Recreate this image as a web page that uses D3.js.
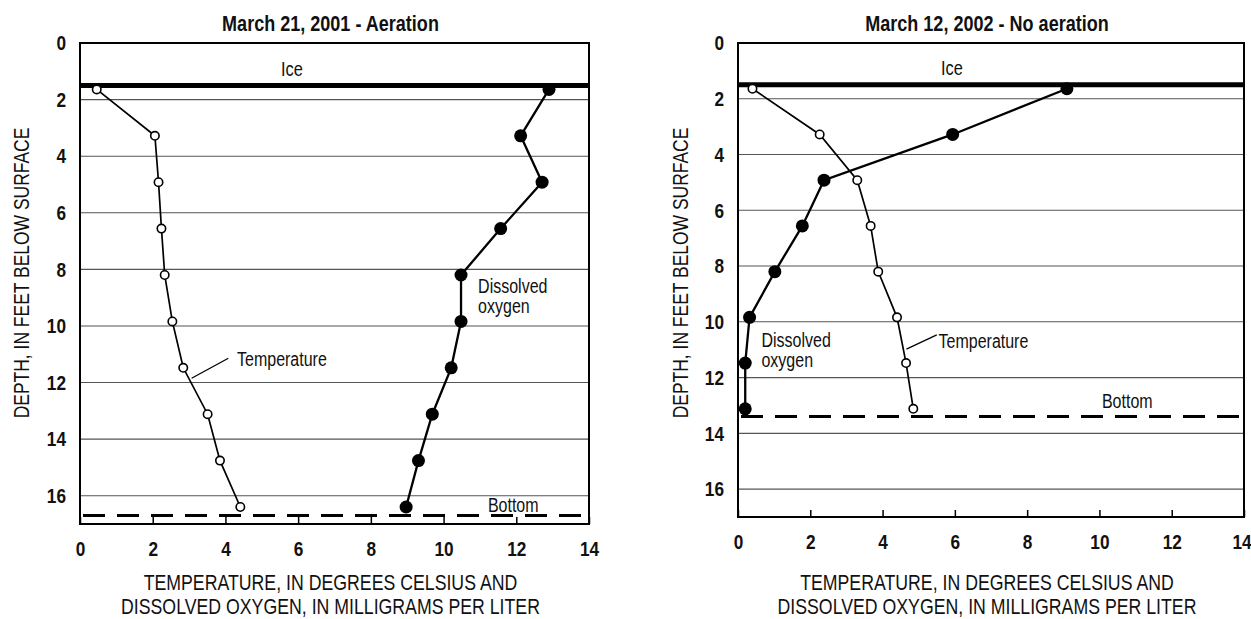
<!DOCTYPE html>
<html><head><meta charset="utf-8">
<script src="https://cdn.jsdelivr.net/npm/d3@7"></script>
<style>
html,body{margin:0;padding:0;background:#fff;}
svg{display:block;}
text{font-family:"Liberation Sans",Arial,sans-serif;fill:#111;}
</style></head>
<body>
<svg id="chart" width="1251" height="619"></svg>
<script>
// ---- data ----
const xTicks = [0, 2, 4, 6, 8, 10, 12, 14];
const yTicks = [0, 2, 4, 6, 8, 10, 12, 14, 16];
const titles = ["March 21, 2001 - Aeration", "March 12, 2002 - No aeration"];
const depths2001 = [1.64, 3.28, 4.92, 6.56, 8.2, 9.84, 11.48, 13.12, 14.76, 16.4];
const temp2001 = [0.46, 2.06, 2.16, 2.24, 2.33, 2.54, 2.84, 3.51, 3.85, 4.41];
const do2001 = [12.9, 12.12, 12.71, 11.57, 10.48, 10.48, 10.21, 9.69, 9.31, 8.97];
const depths2002 = [1.64, 3.28, 4.92, 6.56, 8.2, 9.84, 11.48, 13.12];
const temp2002 = [0.4, 2.26, 3.3, 3.67, 3.88, 4.4, 4.65, 4.85];
const do2002 = [9.1, 5.94, 2.38, 1.78, 1.02, 0.32, 0.2, 0.2];
const iceDepth = [1.5, 1.5];
const bottomDepth = [16.7, 13.4];
const xTitle = ["TEMPERATURE, IN DEGREES CELSIUS AND", "DISSOLVED OXYGEN, IN MILLIGRAMS PER LITER"];
const yTitle = "DEPTH, IN FEET BELOW SURFACE";

const svg = d3.select("#chart");
const FONT = '"Liberation Sans",Arial,sans-serif';

const panels = [
  {x0:80, x1:589, y0:43, y1:524, yTitleX:21, temp:temp2001, dox:do2001, depth:depths2001,
   ice:iceDepth[0], bottom:bottomDepth[0], title:titles[0], lastDx:0,
   iceLbl:[5.83,0.9], doLbl:[10.95,8.62], tLbl:[4.32,11.18], tLead:[[4.08,11.14],[3.07,11.85]], bLbl:[11.22,16.33]},
  {x0:738, x1:1244, y0:43, y1:517, yTitleX:680, temp:temp2002, dox:do2002, depth:depths2002,
   ice:iceDepth[1], bottom:bottomDepth[1], title:titles[1], lastDx:-3,
   iceLbl:[5.92,0.9], doLbl:[0.65,10.67], tLbl:[5.55,10.71], tLead:[[5.5,10.47],[4.66,10.98]], bLbl:[10.07,12.86]}
];

panels.forEach(p => {
  const x = d3.scaleLinear().domain([0,14]).range([p.x0,p.x1]);
  const y = d3.scaleLinear().domain([0,17]).range([p.y0,p.y1]);
  const g = svg.append("g");

  // gridlines
  g.selectAll(".grid").data(yTicks.filter(d => d>0)).enter().append("line")
    .attr("x1", p.x0).attr("x2", p.x1).attr("y1", d=>y(d)).attr("y2", d=>y(d))
    .attr("stroke","#555").attr("stroke-width",1.1);

  // ice line
  g.append("line").attr("x1",p.x0).attr("x2",p.x1).attr("y1",y(p.ice)).attr("y2",y(p.ice))
    .attr("stroke","#000").attr("stroke-width",5);

  // bottom dashed line
  g.append("line").attr("x1",p.x0+3).attr("x2",p.x1-4).attr("y1",y(p.bottom)).attr("y2",y(p.bottom))
    .attr("stroke","#000").attr("stroke-width",3).attr("stroke-dasharray","22,12");

  // x axis (ticks inward)
  const xa = g.append("g").attr("transform",`translate(0,${p.y1})`)
    .call(d3.axisBottom(x).tickValues(xTicks).tickSizeInner(-7).tickSizeOuter(0).tickPadding(17));
  xa.select(".domain").remove();
  xa.selectAll(".tick line").attr("stroke","#000").attr("stroke-width",1.5);
  xa.selectAll("text").attr("font-size",21).attr("font-weight","bold").attr("fill","#111").attr("font-family",FONT);
  xa.selectAll("text").filter(d => d === 14).attr("dx", p.lastDx);

  // y axis labels
  const ya = g.append("g").attr("transform",`translate(${p.x0},0)`)
    .call(d3.axisLeft(y).tickValues(yTicks).tickSize(0).tickPadding(14));
  ya.select(".domain").remove();
  ya.selectAll("text").attr("font-size",21).attr("font-weight","bold").attr("fill","#111").attr("font-family",FONT);

  // frame
  g.append("rect").attr("x",p.x0).attr("y",p.y0).attr("width",p.x1-p.x0).attr("height",p.y1-p.y0)
    .attr("fill","none").attr("stroke","#000").attr("stroke-width",2);

  // lines
  const pts = (vals) => vals.map((v,i)=>[v, p.depth[i]]);
  const line = d3.line().x(d=>x(d[0])).y(d=>y(d[1]));
  g.append("path").attr("d", line(pts(p.temp))).attr("fill","none").attr("stroke","#000").attr("stroke-width",1.7);
  g.append("path").attr("d", line(pts(p.dox))).attr("fill","none").attr("stroke","#000").attr("stroke-width",2.3);

  g.selectAll(".tc").data(pts(p.temp)).enter().append("circle")
    .attr("cx",d=>x(d[0])).attr("cy",d=>y(d[1])).attr("r",4.2)
    .attr("fill","#fff").attr("stroke","#000").attr("stroke-width",1.6);
  g.selectAll(".dc").data(pts(p.dox)).enter().append("circle")
    .attr("cx",d=>x(d[0])).attr("cy",d=>y(d[1])).attr("r",6.5).attr("fill","#000");

  // title
  g.append("text").attr("x",(p.x0+p.x1)/2-4).attr("y",23).attr("text-anchor","middle")
    .attr("dominant-baseline","central").attr("font-size",22).attr("font-weight","bold").text(p.title);

  // y title
  g.append("text").attr("transform",`translate(${p.yTitleX},273) rotate(-90)`)
    .attr("text-anchor","middle").attr("dominant-baseline","central").attr("font-size",21.3).text(yTitle);

  // x title
  xTitle.forEach((t,i)=>{
    g.append("text").attr("x",(p.x0+p.x1)/2-4).attr("y",582+i*24).attr("text-anchor","middle")
      .attr("dominant-baseline","central").attr("font-size",21.6).text(t);
  });

  // annotations
  g.append("text").attr("x",x(p.iceLbl[0])).attr("y",y(p.iceLbl[1])).attr("text-anchor","middle")
    .attr("dominant-baseline","central").attr("font-size",20).text("Ice");
  g.append("text").attr("x",x(p.doLbl[0])).attr("y",y(p.doLbl[1])).attr("dominant-baseline","central")
    .attr("font-size",19.5).text("Dissolved");
  g.append("text").attr("x",x(p.doLbl[0])).attr("y",y(p.doLbl[1])+20).attr("dominant-baseline","central")
    .attr("font-size",19.5).text("oxygen");
  g.append("text").attr("x",x(p.tLbl[0])).attr("y",y(p.tLbl[1])).attr("dominant-baseline","central")
    .attr("font-size",19.5).text("Temperature");
  g.append("line").attr("x1",x(p.tLead[0][0])).attr("y1",y(p.tLead[0][1]))
    .attr("x2",x(p.tLead[1][0])).attr("y2",y(p.tLead[1][1])).attr("stroke","#000").attr("stroke-width",1.3);
  g.append("text").attr("x",x(p.bLbl[0])).attr("y",y(p.bLbl[1])).attr("dominant-baseline","central")
    .attr("font-size",19.5).text("Bottom");
});

// condense all text horizontally (narrow typeface look) around each text's anchor x
svg.selectAll("text").each(function(){
  const ax = +(this.getAttribute("x") || 0);
  const existing = this.getAttribute("transform") || "";
  this.setAttribute("transform", `${existing} translate(${ax},0) scale(0.82,1) translate(${-ax},0)`.trim());
});
</script>
</body></html>
